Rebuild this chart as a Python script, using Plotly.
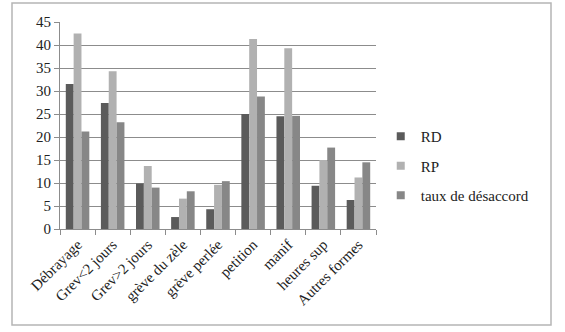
import plotly.graph_objects as go

categories = ["Débrayage", "Grev<2 jours", "Grev>2 jours", "grève du zèle", "grève perlée",
              "petition", "manif", "heures sup", "Autres formes"]
rd = [31.5, 27.4, 9.9, 2.6, 4.3, 25.0, 24.5, 9.4, 6.3]
rp = [42.5, 34.3, 13.7, 6.6, 9.6, 41.3, 39.3, 15.0, 11.2]
taux = [21.2, 23.2, 9.0, 8.2, 10.4, 28.8, 24.6, 17.7, 14.5]
y_ticks = [0, 5, 10, 15, 20, 25, 30, 35, 40, 45]
series = [("RD", rd, "#5b5b5b"), ("RP", rp, "#b1b1b1"), ("taux de désaccord", taux, "#878787")]

font_family = "Liberation Serif"

fig = go.Figure()
for name, vals, col in series:
    fig.add_trace(go.Bar(name=name, x=categories, y=vals, showlegend=False,
                         marker=dict(color=col, line=dict(width=0))))
for name, vals, col in series:
    fig.add_trace(go.Scatter(name=name, x=[None], y=[None], mode="markers", legendgroup=name,
                             marker=dict(symbol="square", size=8, color=col), showlegend=True))

fig.update_layout(
    width=565, height=332,
    margin=dict(l=60, r=189, t=22, b=103),
    paper_bgcolor="white", plot_bgcolor="white",
    barmode="group", bargap=0.33, bargroupgap=0,
    font=dict(family=font_family, size=15, color="#222"),
    legend=dict(x=1.015, y=(229 - 166) / 207, yanchor="middle", xanchor="left",
                font=dict(family=font_family, size=15, color="#222"),
                itemwidth=30, tracegroupgap=7, bgcolor="rgba(0,0,0,0)"),
    showlegend=True,
    shapes=[dict(type="rect", xref="paper", yref="paper",
                 x0=-48/316, x1=(551-60)/316, y0=-(325-229)/207, y1=(229-3)/207,
                 line=dict(color="#b5b5b5", width=1.5), layer="below")],
)
fig.update_xaxes(
    tickangle=-45, showline=True, linecolor="#8c8c8c", linewidth=1,
    ticks="outside", tickson="boundaries", ticklen=5, tickcolor="#8c8c8c",
    showgrid=False, tickfont=dict(family=font_family, size=15),
)
fig.update_yaxes(
    range=[0, 45], tickvals=y_ticks, showline=True, linecolor="#8c8c8c", linewidth=1,
    ticks="outside", ticklen=5, tickcolor="#8c8c8c",
    showgrid=True, gridcolor="#8c8c8c", gridwidth=1, zeroline=False,
    tickfont=dict(family=font_family, size=15),
)

fig.write_html("out.html")
